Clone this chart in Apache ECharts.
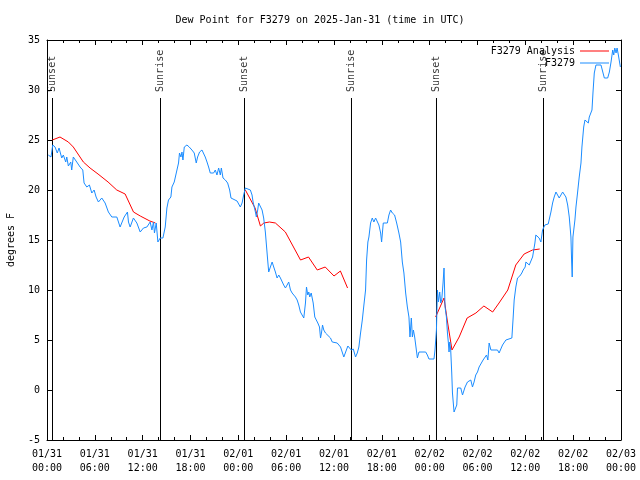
<!DOCTYPE html>
<html><head><meta charset="utf-8">
<script src="https://cdn.jsdelivr.net/npm/echarts@6/dist/echarts.min.js"></script>
<style>html,body{margin:0;padding:0;background:#fff}#c{width:640px;height:480px}</style>
</head><body><div id="c"></div>
<script>
// Time axis in hours since 2025-01-31 00:00 UTC
const xTickLabels = ['01/31\n00:00','01/31\n06:00','01/31\n12:00','01/31\n18:00','02/01\n00:00','02/01\n06:00','02/01\n12:00','02/01\n18:00','02/02\n00:00','02/02\n06:00','02/02\n12:00','02/02\n18:00','02/03\n00:00'];
const sunHours = [0.69, 14.237, 24.774, 38.195, 48.857, 62.279];
const sunLabels = ['Sunset','Sunrise','Sunset','Sunrise','Sunset','Sunrise'];
// Analysis (hours, dew point F); '-' marks a gap
const analysis = [[0.67,25.0],[1.63,25.3],[2.68,24.8],[3.30,24.3],[4.56,22.8],[5.40,22.2],[6.40,21.6],[7.66,20.8],[8.75,20.0],[9.80,19.6],[10.85,17.8],[11.70,17.4],[12.90,16.9],[13.60,16.7],['-','-'],
[24.88,20.0],[26.10,18.2],[26.77,16.4],[27.20,16.7],[27.90,16.8],[28.65,16.7],[29.90,15.8],[31.80,13.0],[32.80,13.3],[33.90,12.0],[34.90,12.3],[36.00,11.4],[36.80,11.9],[37.70,10.2],['-','-'],
[48.75,7.3],[49.80,9.2],[50.20,7.0],[50.80,4.0],[51.70,5.3],[52.70,7.2],[53.80,7.7],[54.80,8.4],[55.90,7.8],[56.70,8.7],[57.80,10.0],[58.80,12.5],[59.85,13.6],[60.90,14.0],[61.80,14.1]];
// Station observations (hours, dew point F)
const station = [[0.16,23.5],[0.50,23.3],[0.72,24.5],[1.01,24.3],[1.29,23.7],[1.51,24.2],[1.85,23.2],[2.05,23.5],[2.35,22.8],[2.48,23.3],[2.68,22.4],[2.98,22.8],[3.10,22.0],[3.30,23.3],[3.73,22.8],[4.15,22.3],[4.49,22.0],[4.65,20.7],[4.99,20.3],[5.32,20.5],[5.62,19.7],[5.91,20.0],[6.16,19.3],[6.45,18.8],[6.87,19.2],[7.29,18.7],[7.70,17.8],[8.13,17.3],[8.76,17.3],[9.17,16.3],[9.39,16.3],[9.68,17.3],[10.09,17.8],[10.22,16.8],[10.43,16.3],[10.84,17.2],[11.27,16.7],[11.69,15.8],[12.10,16.2],[12.53,16.3],[12.94,16.8],[13.16,16.0],[13.36,16.8],[13.48,15.7],[13.70,16.7],[13.91,14.8],[14.20,15.2],[14.54,15.2],[14.83,16.3],[15.04,18.2],[15.24,19.0],[15.54,19.3],[15.67,20.3],[15.96,20.8],[16.21,21.0],[16.30,22.0],[16.50,22.7],[16.62,23.7],[16.80,23.3],[16.93,23.8],[17.05,23.0],[17.22,24.3],[17.55,24.5],[17.84,24.3],[18.18,24.0],[18.47,23.7],[18.72,22.7],[18.89,23.3],[19.14,23.8],[19.44,24.0],[19.64,24.0],[19.85,23.3],[20.07,22.8],[20.27,22.3],[20.48,21.7],[20.90,21.7],[21.11,22.0],[21.32,21.5],[21.53,22.2],[21.74,21.5],[21.87,22.2],[22.08,21.2],[22.37,21.0],[22.66,20.7],[22.91,20.0],[23.08,19.2],[23.29,19.0],[23.84,18.9],[24.04,18.7],[24.25,18.3],[24.47,18.7],[24.67,19.5],[24.88,20.2],[25.01,20.0],[25.51,20.0],[25.72,19.5],[25.85,18.8],[26.01,18.8],[26.14,17.8],[26.26,17.3],[26.43,18.0],[26.55,18.7],[26.77,18.5],[26.98,18.0],[27.18,17.2],[27.39,15.8],[27.52,15.8],[27.68,13.0],[27.81,11.8],[28.02,12.3],[28.24,12.8],[28.44,12.3],[28.65,11.8],[28.86,11.2],[29.07,11.5],[29.28,11.2],[29.49,11.2],[29.69,10.5],[29.91,10.2],[30.12,10.5],[30.32,10.8],[30.54,10.0],[30.75,9.7],[31.16,9.3],[31.38,9.0],[31.58,8.5],[31.79,7.8],[32.01,7.7],[32.21,7.2],[32.42,8.7],[32.55,10.3],[32.71,9.5],[32.84,9.8],[32.96,9.3],[33.14,9.7],[33.39,8.7],[33.59,7.3],[33.80,7.2],[33.97,6.7],[34.18,6.3],[34.31,5.2],[34.43,5.7],[34.56,6.5],[34.72,6.0],[34.93,5.7],[35.15,5.5],[35.56,5.2],[35.78,4.8],[35.98,4.7],[36.40,4.7],[36.61,4.5],[36.82,4.3],[37.03,4.4],[37.23,3.3],[37.45,3.3],[37.74,4.4],[37.99,4.3],[38.16,4.0],[38.42,4.1],[38.70,3.3],[38.92,3.7],[39.12,4.3],[39.33,5.7],[39.55,7.0],[39.75,8.5],[39.96,10.0],[40.09,13.0],[40.25,14.8],[40.38,15.3],[40.59,16.7],[40.80,17.2],[41.00,16.8],[41.22,17.2],[41.43,17.3],[41.63,16.5],[41.85,15.7],[41.97,14.8],[42.18,16.7],[42.69,16.7],[42.89,17.5],[43.10,18.0],[43.32,17.7],[43.60,17.5],[43.86,16.7],[44.14,15.7],[44.36,14.8],[44.57,12.8],[44.77,11.7],[44.99,9.7],[45.20,8.3],[45.40,7.3],[45.53,5.3],[45.70,7.2],[45.83,5.3],[45.96,6.0],[46.12,5.3],[46.37,5.2],[46.46,3.2],[46.66,3.8],[47.50,3.8],[47.71,3.5],[47.91,3.1],[48.54,3.1],[48.67,4.0],[48.85,6.0],[48.97,10.0],[49.10,8.8],[49.26,9.8],[49.39,8.7],[49.51,9.0],[49.68,10.7],[49.80,12.2],[49.93,8.3],[50.10,7.3],[50.23,5.7],[50.35,4.7],[50.43,3.8],[50.52,4.8],[50.64,4.0],[50.77,1.7],[50.86,-0.3],[51.06,-2.2],[51.28,-2.0],[51.40,-1.5],[51.49,0.2],[51.69,0.3],[51.90,0.2],[52.12,-0.5],[52.44,0.3],[52.74,0.8],[53.16,1.0],[53.37,0.3],[53.57,0.8],[53.78,1.5],[54.00,1.8],[54.20,2.3],[54.41,2.5],[54.70,3.0],[54.95,3.2],[55.13,3.5],[55.30,3.0],[55.46,4.7],[55.68,4.0],[56.51,4.0],[56.71,3.7],[56.93,3.8],[57.14,4.5],[57.34,4.3],[57.56,5.0],[57.77,5.2],[58.31,5.2],[58.47,7.2],[58.60,9.0],[58.81,10.3],[59.02,11.2],[59.31,11.4],[59.56,11.7],[59.73,12.0],[59.98,12.3],[60.07,12.8],[60.28,12.7],[60.49,12.5],[60.70,12.7],[60.91,13.3],[61.20,14.7],[61.32,15.5],[61.53,15.6],[61.73,15.2],[61.95,14.8],[62.16,16.0],[62.29,16.2],[62.45,16.5],[62.70,16.6],[62.87,16.6],[63.05,16.8],[63.21,17.8],[63.42,18.7],[63.62,19.3],[63.84,19.8],[64.05,19.7],[64.25,19.2],[64.46,19.2],[64.68,19.8],[64.88,19.7],[65.09,19.3],[65.31,18.5],[65.51,17.3],[65.72,15.3],[65.81,12.8],[65.88,11.3],[65.97,15.3],[66.06,15.5],[66.22,17.0],[66.35,18.3],[66.56,19.8],[66.76,21.3],[66.98,22.7],[67.10,24.3],[67.32,26.3],[67.48,27.0],[67.73,27.0],[67.90,26.7],[68.02,27.3],[68.23,27.5],[68.36,28.0],[68.49,29.8],[68.65,31.7],[68.86,32.5],[69.49,32.5],[69.71,32.3],[69.91,31.2],[70.33,31.2],[70.54,31.8],[70.75,32.8],[70.96,34.0],[71.09,33.5],[71.22,34.2],[71.38,33.7],[71.51,34.2],[71.67,33.5],[71.80,33.3],[71.92,32.3]];

const FONT = 'DejaVu Sans Mono';
const SUN_LINE_TOP = 29.2, SUN_LABEL_BASE = 29.7;
const sunLine = [];
sunHours.forEach(h => { sunLine.push([h, -5], [h, SUN_LINE_TOP], ['-', '-']); });

const chart = echarts.init(document.getElementById('c'), null, {renderer: 'canvas'});
const axisCommon = {
  axisLine: {show: true, onZero: false, lineStyle: {color: '#000', width: 1}},
  splitLine: {show: false},
  axisTick: {show: true, inside: true, length: 5, lineStyle: {color: '#000'}}
};
chart.setOption({
  animation: false,
  backgroundColor: '#fff',
  title: {text: 'Dew Point for F3279 on 2025-Jan-31 (time in UTC)', left: 'center', top: 10,
    textStyle: {fontFamily: FONT, fontSize: 10, fontWeight: 'normal', color: '#000'}},
  legend: {
    data: ['F3279 Analysis', 'F3279'], orient: 'vertical', right: 26, top: 41, align: 'right',
    itemWidth: 29, itemHeight: 1, itemGap: 2, icon: 'rect', selectedMode: false,
    textStyle: {fontFamily: FONT, fontSize: 10, color: '#000'}
  },
  grid: {left: 47, right: 19, top: 40, bottom: 40, containLabel: false, outerBoundsMode: 'none'},
  xAxis: [
    Object.assign({}, axisCommon, {type: 'value', min: 0, max: 72, interval: 6, position: 'bottom',
      minorTick: {show: true, splitNumber: 3, length: 3, lineStyle: {color: '#000'}},
      axisLabel: {show: true, margin: 7, fontFamily: FONT, fontSize: 10, color: '#000', lineHeight: 14,
        showMinLabel: true, showMaxLabel: true,
        formatter: v => xTickLabels[Math.round(v / 6)]}}),
    Object.assign({}, axisCommon, {type: 'value', min: 0, max: 72, interval: 6, position: 'top',
      minorTick: {show: true, splitNumber: 3, length: 3, lineStyle: {color: '#000'}},
      axisLabel: {show: false}})
  ],
  yAxis: [
    Object.assign({}, axisCommon, {type: 'value', min: -5, max: 35, interval: 5, position: 'left',
      name: 'degrees F', nameLocation: 'middle', nameGap: 31, nameRotate: 90,
      nameTextStyle: {fontFamily: FONT, fontSize: 10, color: '#000'},
      axisLabel: {show: true, margin: 7, fontFamily: FONT, fontSize: 10, color: '#000', showMinLabel: true, showMaxLabel: true}}),
    Object.assign({}, axisCommon, {type: 'value', min: -5, max: 35, interval: 5, position: 'right',
      axisLabel: {show: false}})
  ],
  series: [
    {type: 'line', name: 'sun', data: sunLine, symbol: 'none', silent: true,
      lineStyle: {color: '#000', width: 1}, itemStyle: {color: '#000'}},
    {type: 'scatter', name: 'sunlabels', silent: true, symbolSize: 0.1,
      itemStyle: {color: 'rgba(0,0,0,0)'},
      data: sunHours.map((h, i) => ({value: [h, SUN_LABEL_BASE], name: sunLabels[i]})),
      label: {show: true, formatter: '{b}', position: [0, 0], offset: [1, 0], rotate: 90, align: 'left', verticalAlign: 'middle',
        fontFamily: FONT, fontSize: 10, color: '#000'}},
    {type: 'line', name: 'F3279 Analysis', data: analysis, symbol: 'none', connectNulls: false,
      lineStyle: {color: '#ff0000', width: 1}, itemStyle: {color: '#ff0000'}},
    {type: 'line', name: 'F3279', data: station, symbol: 'none',
      lineStyle: {color: '#1a8cff', width: 1}, itemStyle: {color: '#1a8cff'}}
  ]
});
</script></body></html>
